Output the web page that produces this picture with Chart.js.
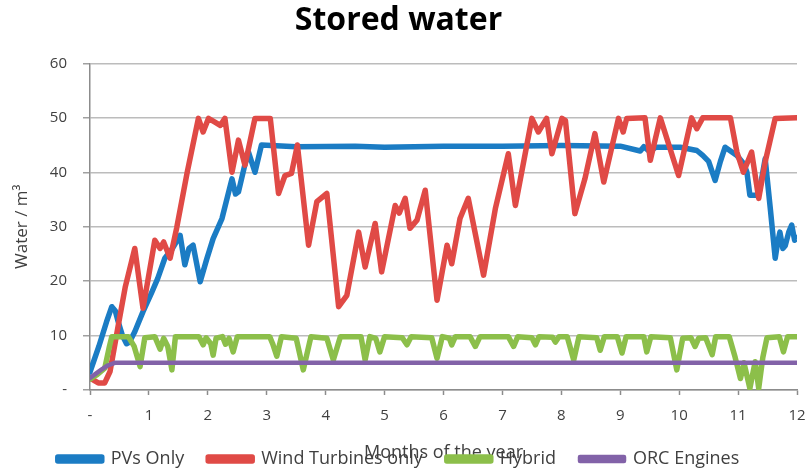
<!DOCTYPE html>
<html>
<head>
<meta charset="utf-8">
<title>Stored water</title>
<script src="https://cdn.jsdelivr.net/npm/chart.js@4/dist/chart.umd.min.js"></script>
<style>
  html, body { margin: 0; padding: 0; background: #ffffff; }
  canvas { display: block; }
</style>
</head>
<body>
<canvas id="chart" width="810" height="473"></canvas>
<script>
// Stored water volume (m³) over the months of the year, per energy option.
const seriesNames = ['PVs Only', 'Wind Turbines only', 'Hybrid', 'ORC Engines'];

const pvMonths = [0, 0.15, 0.28, 0.37, 0.43, 0.48, 0.55, 0.62, 0.67, 0.76, 0.9, 1.05, 1.15, 1.27, 1.4, 1.53, 1.61, 1.68, 1.75, 1.87, 1.98, 2.09, 2.24, 2.41, 2.47, 2.52, 2.62, 2.69, 2.8, 2.91, 3.5, 4.5, 5.0, 6.0, 7.0, 8.0, 9.0, 9.34, 9.4, 9.5, 9.6, 10.02, 10.3, 10.4, 10.5, 10.61, 10.7, 10.78, 10.98, 11.1, 11.15, 11.2, 11.35, 11.46, 11.55, 11.63, 11.67, 11.71, 11.76, 11.8, 11.86, 11.91, 11.96, 12];
const pvValues = [3.3, 8, 12.5, 15.3, 14.5, 12.5, 10, 8.5, 8.8, 10.7, 14.4, 18, 20.5, 24.2, 26, 28.4, 23, 26, 26.6, 19.9, 24, 27.8, 31.5, 38.8, 36, 36.4, 41, 43.7, 40, 45, 44.7, 44.8, 44.6, 44.8, 44.8, 44.9, 44.8, 43.9, 44.7, 43.8, 44.6, 44.6, 44, 43.1, 42, 38.5, 42, 44.6, 43.1, 41.5, 40, 35.8, 35.8, 42.5, 33, 24.2, 27, 29, 26, 26.5, 29, 30.3, 27.5, 28];

const windMonths = [0, 0.14, 0.25, 0.34, 0.48, 0.6, 0.76, 0.9, 1.1, 1.19, 1.25, 1.36, 1.47, 1.65, 1.84, 1.92, 2.01, 2.12, 2.21, 2.29, 2.41, 2.52, 2.63, 2.8, 3.06, 3.2, 3.31, 3.42, 3.52, 3.71, 3.85, 4.02, 4.22, 4.36, 4.56, 4.67, 4.84, 4.95, 5.18, 5.25, 5.35, 5.43, 5.55, 5.69, 5.89, 6.06, 6.14, 6.28, 6.42, 6.68, 6.88, 7.1, 7.22, 7.5, 7.61, 7.75, 7.84, 8.01, 8.07, 8.23, 8.4, 8.57, 8.72, 8.97, 9.05, 9.11, 9.42, 9.51, 9.68, 9.99, 10.21, 10.3, 10.4, 10.87, 10.98, 11.09, 11.23, 11.35, 11.46, 11.63, 12];
const windValues = [2.2, 1.3, 1.3, 3.4, 11.9, 19, 26, 15, 27.5, 26, 27.2, 24.2, 29.7, 40, 49.9, 47.4, 49.9, 49.2, 48.6, 49.9, 40, 45.9, 41.3, 49.9, 49.9, 36.1, 39.4, 39.8, 45, 26.6, 34.6, 36.1, 15.3, 17.4, 29, 22.6, 30.6, 21.7, 33.9, 32.5, 35.2, 29.7, 31.2, 36.7, 16.5, 26.6, 23.2, 31.5, 35.2, 21.1, 33.3, 43.4, 33.9, 49.9, 47.4, 49.9, 43.4, 49.9, 49.5, 32.4, 38.8, 47.1, 38.2, 49.9, 47.4, 49.9, 50, 42.2, 50, 39.4, 50, 48, 50, 50, 43.7, 40, 43.7, 35.2, 41.9, 49.9, 50];

const hybridMonths = [0, 0.12, 0.25, 0.33, 0.37, 0.65, 0.75, 0.85, 0.93, 1.1, 1.19, 1.25, 1.32, 1.39, 1.45, 1.85, 1.92, 1.97, 2.05, 2.09, 2.14, 2.25, 2.3, 2.36, 2.43, 2.5, 3.05, 3.1, 3.17, 3.25, 3.5, 3.62, 3.75, 4.02, 4.13, 4.25, 4.6, 4.67, 4.75, 4.85, 4.92, 5.0, 5.3, 5.38, 5.45, 5.8, 5.89, 5.98, 6.1, 6.14, 6.2, 6.45, 6.54, 6.62, 7.1, 7.19, 7.26, 7.5, 7.56, 7.62, 7.85, 7.9, 7.96, 8.1, 8.21, 8.3, 8.6, 8.66, 8.73, 8.95, 9.03, 9.1, 9.4, 9.45, 9.52, 9.85, 9.96, 10.06, 10.2, 10.27, 10.33, 10.45, 10.56, 10.62, 10.85, 10.95, 11.04, 11.1, 11.2, 11.29, 11.35, 11.42, 11.49, 11.7, 11.77, 11.84, 12];
const hybridValues = [2, 2.8, 4, 8, 9.8, 9.8, 8, 4.3, 9.6, 9.8, 7.5, 9.5, 8, 3.7, 9.8, 9.8, 8.3, 9.6, 8.5, 6.4, 9.5, 9.8, 8.4, 9.5, 7, 9.8, 9.8, 8.5, 6.2, 9.8, 9.5, 3.7, 9.8, 9.5, 5.5, 9.8, 9.8, 5.5, 9.8, 9.5, 7, 9.8, 9.6, 8.3, 9.8, 9.6, 5.8, 9.8, 9.5, 8.3, 9.8, 9.8, 8, 9.8, 9.8, 8, 9.8, 9.6, 8.3, 9.8, 9.7, 8.8, 9.8, 9.8, 5.5, 9.8, 9.6, 7.3, 9.8, 9.8, 6.8, 9.8, 9.8, 7, 9.8, 9.6, 3.7, 9.5, 9.6, 8, 9.5, 9.6, 6.5, 9.8, 9.8, 6, 2.1, 5, 0.3, 5.2, 0.3, 6, 9.6, 9.8, 7, 9.8, 9.8];

const orcMonths = [0, 0.1, 0.2, 0.3, 0.42, 12];
const orcValues = [2.2, 3, 3.8, 4.5, 5, 5];

const seriesColors = ['#1b7cc4', '#e04a46', '#8cbf4a', '#8262a8'];

const monthTicks = [0, 1, 2, 3, 4, 5, 6, 7, 8, 9, 10, 11, 12];
const waterTicks = [0, 10, 20, 30, 40, 50, 60];

const FONT = "'Open Sans', sans-serif";
const TEXT = '#404040';

function points(xs, ys) {
  return xs.map((x, i) => ({ x: x, y: ys[i] }));
}

function dataset(i, xs, ys, width, order) {
  return {
    label: seriesNames[i],
    data: points(xs, ys),
    borderColor: seriesColors[i],
    backgroundColor: seriesColors[i],
    borderWidth: width,
    pointRadius: 0,
    tension: 0,
    borderJoinStyle: 'round',
    borderCapStyle: 'round',
    order: order
  };
}

const zeroAsDash = (v) => (v === 0 ? '-' : v);

new Chart(document.getElementById('chart'), {
  type: 'line',
  data: {
    datasets: [
      dataset(0, pvMonths, pvValues, 5.5, 4),
      dataset(1, windMonths, windValues, 5.5, 3),
      dataset(2, hybridMonths, hybridValues, 5.5, 2),
      dataset(3, orcMonths, orcValues, 4.5, 1)
    ]
  },
  options: {
    responsive: false,
    animation: false,
    events: [],
    layout: { padding: { left: 0, right: 13, top: 0, bottom: -5 } },
    plugins: {
      tooltip: { enabled: false },
      title: {
        display: true,
        text: 'Stored water',
        color: '#000000',
        font: { family: FONT, size: 32, weight: 'bold' },
        padding: { top: 2, bottom: 23 }
      },
      legend: {
        position: 'bottom',
        labels: {
          boxWidth: 44,
          boxHeight: 4,
          padding: 24,
          color: TEXT,
          font: { family: FONT, size: 18 },
          sort: (a, b) => a.datasetIndex - b.datasetIndex
        }
      }
    },
    scales: {
      x: {
        type: 'linear',
        min: 0,
        max: 12,
        afterBuildTicks: (scale) => { scale.ticks = monthTicks.map(v => ({ value: v })); },
        afterFit: (scale) => {
          scale.height = 36;
          scale.paddingLeft = 0;
          scale.paddingRight = 0;
        },
        ticks: {
          callback: zeroAsDash,
          color: TEXT,
          font: { family: FONT, size: 15 },
          padding: 12,
          maxRotation: 0
        },
        grid: {
          drawOnChartArea: false,
          drawTicks: true,
          tickLength: 5,
          tickColor: '#8c8c8c',
          tickWidth: 1.5
        },
        border: { color: '#8c8c8c', width: 1.5 },
        title: {
          display: true,
          text: 'Months of the year',
          color: TEXT,
          font: { family: FONT, size: 18 },
          padding: { top: 0, bottom: -38 }
        }
      },
      y: {
        min: 0,
        max: 60,
        afterBuildTicks: (scale) => { scale.ticks = waterTicks.map(v => ({ value: v })); },
        afterFit: (scale) => { scale.width = 90; },
        ticks: {
          callback: zeroAsDash,
          color: TEXT,
          font: { family: FONT, size: 15 },
          padding: 16
        },
        grid: {
          color: '#bcbcbc',
          lineWidth: 1.5,
          tickLength: 7,
          tickColor: '#a0a0a0'
        },
        border: { color: '#8c8c8c', width: 1.5 },
        title: {
          display: true,
          text: 'Water / m³',
          color: TEXT,
          font: { family: FONT, size: 17 },
          padding: { top: 12, bottom: 0 }
        }
      }
    }
  }
});
</script>
</body>
</html>
